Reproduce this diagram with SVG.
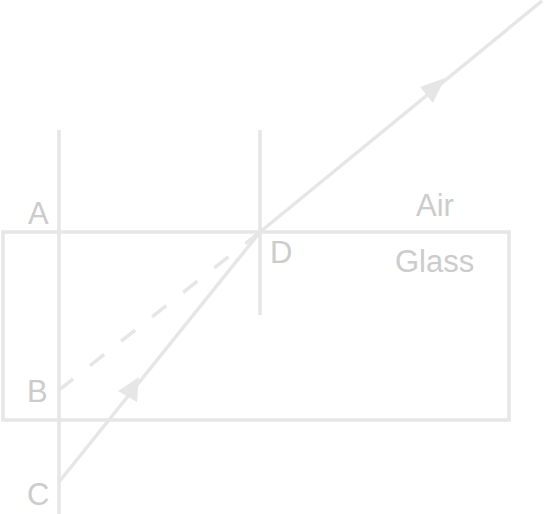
<svg xmlns="http://www.w3.org/2000/svg" width="544" height="514" viewBox="0 0 544 514">
<defs>
<style>
.ln{stroke:#e6e6e6;stroke-width:3.5;fill:none}
.lbl{font-family:"Liberation Sans",Arial,sans-serif;font-size:31px;fill:#cccccc}
.ah{fill:#e6e6e6}
</style>
</defs>
<rect width="544" height="514" fill="#ffffff"/>
<g id="glass"><rect class="ln" x="3" y="232" width="506" height="188"/></g>
<g id="normal-A"><line class="ln" x1="59" y1="130" x2="59" y2="514"/></g>
<g id="normal-D"><line class="ln" x1="260" y1="130" x2="260" y2="315"/></g>
<g id="connectors">
<line class="ln" x1="59" y1="482" x2="260" y2="232"/>
<line class="ln" x1="260" y1="232" x2="542" y2="1"/>
<line class="ln" x1="59" y1="390" x2="260" y2="232" stroke-dasharray="18,21.5"/>
<polygon class="ah" points="139,377 118,391 137,402"/>
<polygon class="ah" points="445,78 420,87 433,103"/>
</g>
<g id="labels">
<text class="lbl" x="28" y="224">A</text>
<text class="lbl" x="27" y="402">B</text>
<text class="lbl" x="27" y="505">C</text>
<text class="lbl" x="270" y="263">D</text>
<text class="lbl" x="416" y="216">Air</text>
<text class="lbl" x="395" y="272">Glass</text>
</g>
</svg>
